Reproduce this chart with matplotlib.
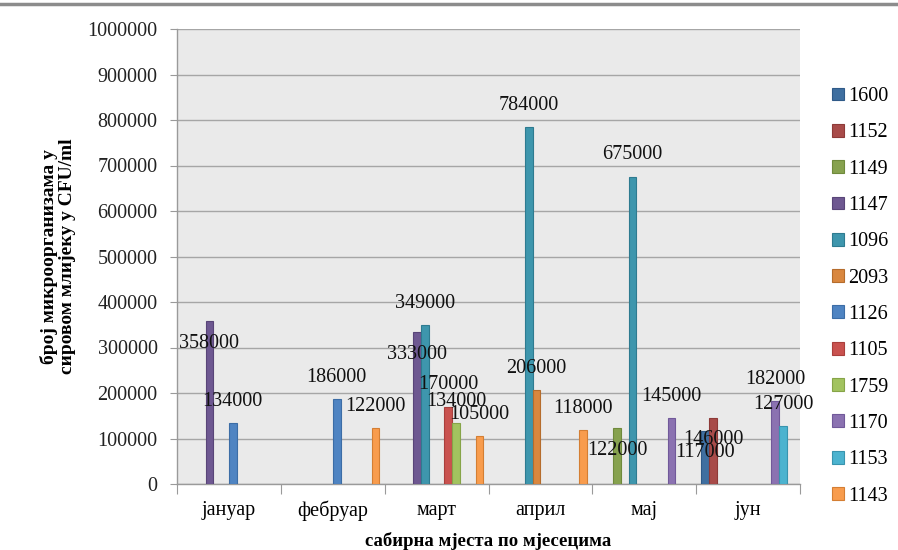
import matplotlib
matplotlib.use("Agg")
import matplotlib.pyplot as plt
import numpy as np
from matplotlib.patches import Patch
from matplotlib.lines import Line2D

months = ['јануар', 'фебруар', 'март', 'април', 'мај', 'јун']
series_names = ['1600', '1152', '1149', '1147', '1096', '2093',
                '1126', '1105', '1759', '1170', '1153', '1143']

s1600 = [0, 0, 0, 0, 0, 117000]
s1152 = [0, 0, 0, 0, 0, 146000]
s1149 = [0, 0, 0, 0, 122000, 0]
s1147 = [358000, 0, 333000, 0, 0, 0]
s1096 = [0, 0, 349000, 784000, 675000, 0]
s2093 = [0, 0, 0, 206000, 0, 0]
s1126 = [134000, 186000, 0, 0, 0, 0]
s1105 = [0, 0, 170000, 0, 0, 0]
s1759 = [0, 0, 134000, 0, 0, 0]
s1170 = [0, 0, 0, 0, 145000, 182000]
s1153 = [0, 0, 0, 0, 0, 127000]
s1143 = [0, 122000, 105000, 118000, 0, 0]

values = [s1600, s1152, s1149, s1147, s1096, s2093,
          s1126, s1105, s1759, s1170, s1153, s1143]

colors = ['#3F6FA0', '#A84B49', '#87A24F', '#6E5891', '#3E96AD', '#D9873F',
          '#4F84C2', '#C9524F', '#A2C35F', '#8B72B1', '#4CB3CF', '#F89C4D']
edges = ['#2F5A88', '#8E3A38', '#6F8A3C', '#594578', '#2E7B90', '#B56C2C',
         '#3C6DA6', '#A93F3C', '#86A448', '#71599A', '#3994AE', '#D47E33']

# labels placed below the bar top (series index, month index)
below = {(3, 0), (3, 2), (2, 4), (1, 5), (0, 5)}

serif = ['Liberation Serif', 'DejaVu Serif']
plt.rcParams['font.family'] = serif

fig = plt.figure(figsize=(8.98, 5.50), dpi=100)
ax = fig.add_axes([177/898, 1-484/550, (800-177)/898, (484-29)/550])
ax.set_facecolor('#EAEAEA')

n = len(series_names)
w = 0.075
x = np.arange(len(months))
for i, (name, vals) in enumerate(zip(series_names, values)):
    off = (i - (n - 1) / 2) * w
    for j, v in enumerate(vals):
        if v:
            ax.bar(x[j] + off, v, width=w, color=colors[i], edgecolor=edges[i],
                   linewidth=0.8, zorder=3)
            dy = -15.8 if (i, j) in below else 15.8
            ax.annotate(f"{v}", (x[j] + off, v), xytext=(0, dy),
                        textcoords='offset points', ha='center', va='center',
                        fontsize=14.5, color='#111111', zorder=5)

ax.set_xlim(-0.5, len(months) - 0.5)
ax.set_ylim(0, 1000000)
ax.set_yticks(np.arange(0, 1000001, 100000))
ax.set_yticklabels([str(t) for t in range(0, 1000001, 100000)])
ax.yaxis.grid(True, color='#A6A6A6', linewidth=1.0, zorder=0)
ax.set_axisbelow(True)

ax.set_xticks(np.arange(-0.5, len(months), 1.0))
ax.set_xticklabels([])
ax.set_xticks(x, minor=True)
ax.set_xticklabels(months, minor=True)
ax.tick_params(axis='x', which='major', length=7, color='#9A9A9A', direction='out')
ax.tick_params(axis='x', which='minor', length=0, pad=12, labelsize=14.5)
ax.tick_params(axis='y', length=5, color='#9A9A9A', pad=9, labelsize=14.5,
               labelcolor='#222222')

for s in ['top', 'right']:
    ax.spines[s].set_visible(False)
for s in ['left', 'bottom']:
    ax.spines[s].set_color('#9A9A9A')
    ax.spines[s].set_linewidth(1.0)

ax.set_xlabel('сабирна мјеста по мјесецима', fontsize=13.5, fontweight='bold')
ax.xaxis.set_label_coords(0.5, -0.105)
ax.set_ylabel('број микроорганизама у\nсировом млијеку у CFU/ml', fontsize=14,
              fontweight='bold', linespacing=1.05)
ax.yaxis.set_label_coords(-0.162, 0.5)

handles = [Patch(facecolor=c, edgecolor=e, linewidth=0.8) for c, e in zip(colors, edges)]
fig.legend(handles, series_names, loc='upper left',
           bbox_to_anchor=(824/898, 1-79/550), frameon=False, fontsize=14.5,
           handlelength=0.6, handleheight=0.6, handletextpad=0.2,
           labelspacing=0.86, borderaxespad=0)

fig.add_artist(Line2D([0, 1], [1-4/550, 1-4/550], color='#8C8C8C', linewidth=2.5,
                      transform=fig.transFigure))

fig.savefig('out.png', dpi=100)
